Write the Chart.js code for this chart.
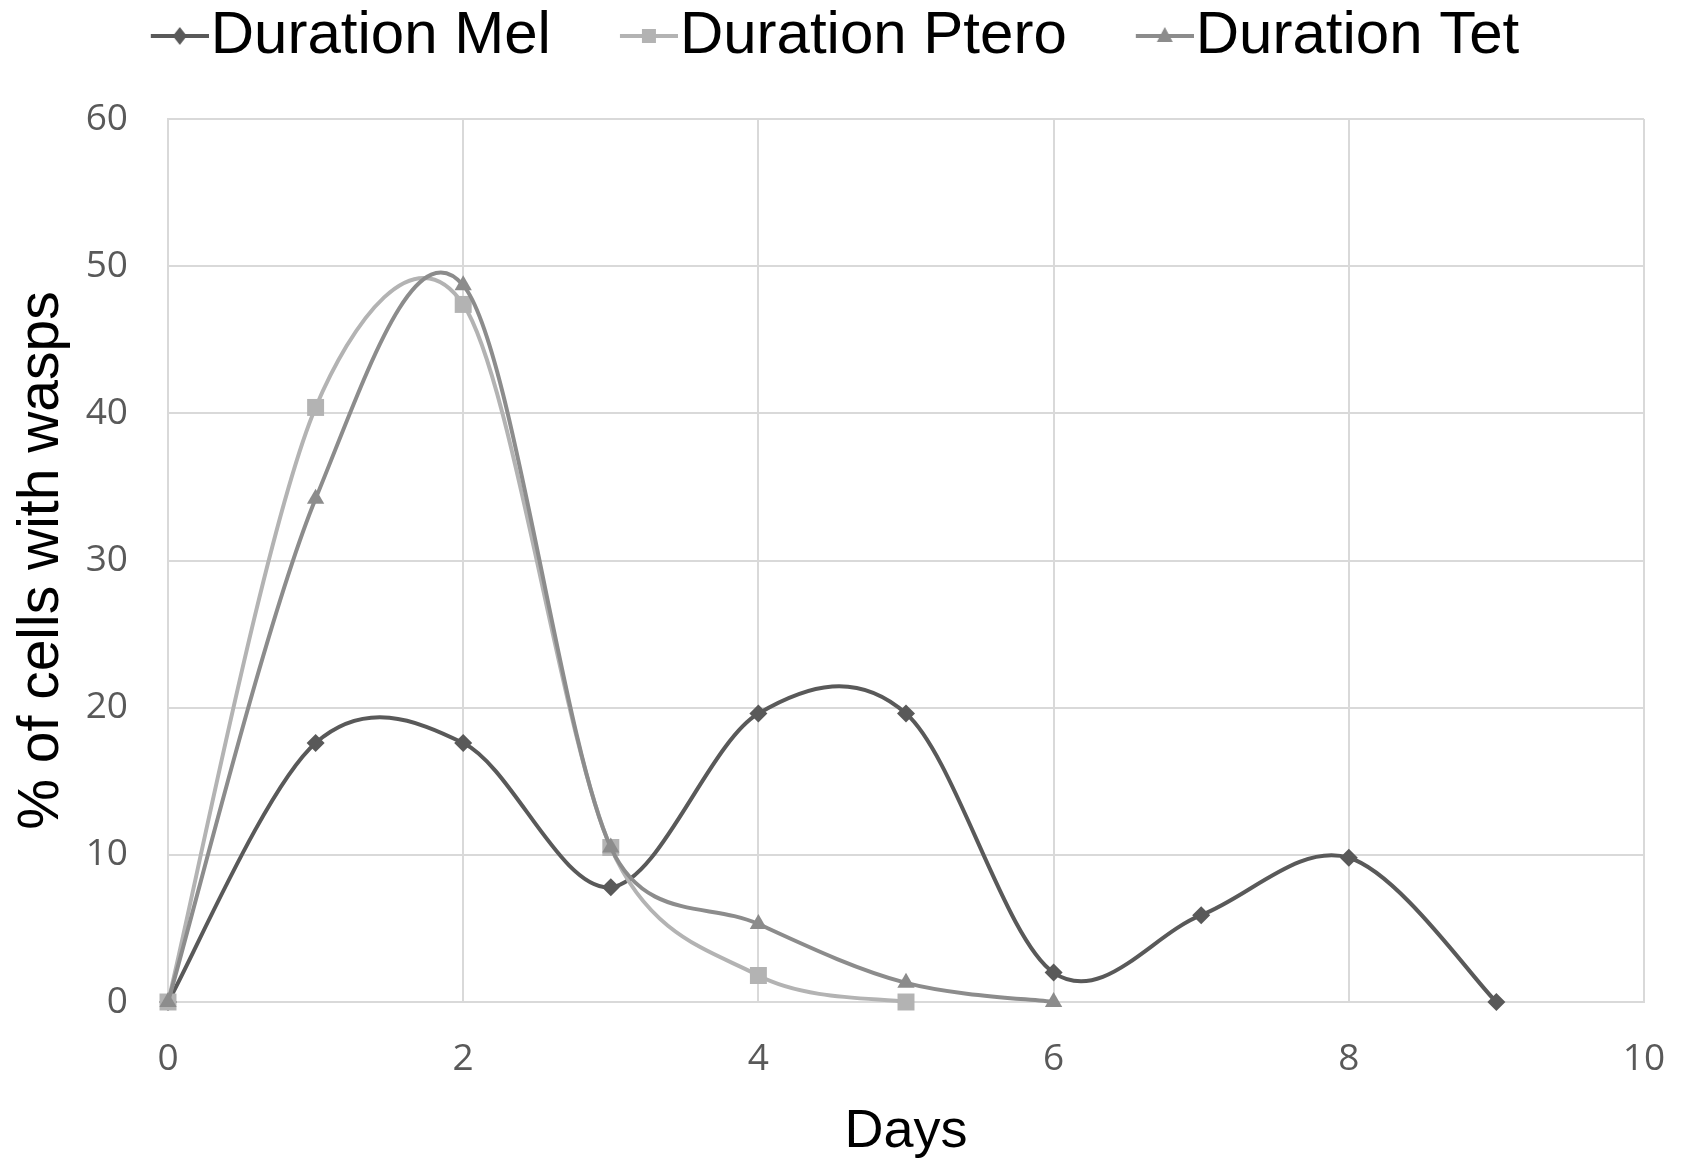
<!DOCTYPE html>
<html>
<head>
<meta charset="utf-8">
<script src="https://cdn.jsdelivr.net/npm/chart.js@4.4.0/dist/chart.umd.min.js"></script>
<style>
  html, body { margin: 0; padding: 0; background: #fff; }
  #wrap { width: 1685px; height: 1160px; }
</style>
</head>
<body>
<div id="wrap"><canvas id="chart" width="1685" height="1160"></canvas></div>
<script>
const seriesNames = ["Duration Mel", "Duration Ptero", "Duration Tet"];
const melDays = [0, 1, 2, 3, 4, 5, 6, 7, 8, 9];
const melValues = [0, 17.6, 17.6, 7.8, 19.6, 19.6, 2.0, 5.9, 9.8, 0];
const pteroDays = [0, 1, 2, 3, 4, 5];
const pteroValues = [0, 40.4, 47.4, 10.5, 1.8, 0];
const tetDays = [0, 1, 2, 3, 4, 5, 6];
const tetValues = [0, 34.2, 48.7, 10.5, 5.3, 1.3, 0];
const xTicks = [0, 2, 4, 6, 8, 10];
const yTicks = [0, 10, 20, 30, 40, 50, 60];

const colors = ["#595959", "#b3b3b3", "#8c8c8c"];
const styles = ["rectRot", "rect", "triangle"];
const radii = [9, 12, 10];
const gridColor = "#d9d9d9";
const titleFont = "'Liberation Sans', Arial, sans-serif";
const tickFont = "'Open Sans', sans-serif";

const LEGEND_SIZE = 60;
const BOX_W = 56;
const LEGEND_PAD = 43;

function toPoints(xs, ys) {
  return xs.map((x, i) => ({ x: x, y: ys[i] }));
}

// legend sample: line + marker, drawn at the right end of a wider image
// so the label text sits right next to it (like Excel)
function legendMark(color, style) {
  const half = LEGEND_SIZE / 2;
  const c = document.createElement("canvas");
  c.width = BOX_W + 2 * half - 4;
  c.height = 26;
  const g = c.getContext("2d");
  const x0 = c.width - 58, cx = x0 + 29, cy = 13;
  g.strokeStyle = color;
  g.fillStyle = color;
  g.lineWidth = 4;
  g.beginPath(); g.moveTo(x0, cy); g.lineTo(x0 + 58, cy); g.stroke();
  g.beginPath();
  if (style === "rectRot") {
    g.moveTo(cx, cy - 9); g.lineTo(cx + 7, cy); g.lineTo(cx, cy + 9); g.lineTo(cx - 7, cy);
  } else if (style === "rect") {
    g.rect(cx - 7, cy - 7, 14, 14);
  } else {
    g.moveTo(cx, cy - 9); g.lineTo(cx + 8, cy + 6); g.lineTo(cx - 8, cy + 6);
  }
  g.closePath(); g.fill();
  return c;
}

const allData = [toPoints(melDays, melValues), toPoints(pteroDays, pteroValues), toPoints(tetDays, tetValues)];

const datasets = seriesNames.map((name, i) => ({
  label: name,
  data: allData[i],
  borderColor: colors[i],
  backgroundColor: colors[i],
  pointBackgroundColor: colors[i],
  pointBorderColor: colors[i],
  pointBorderWidth: 0,
  pointStyle: styles[i],
  pointRadius: radii[i],
  borderWidth: 4,
  tension: 0.4,
  clip: false,
  order: 3 - i
}));

const marks = seriesNames.map((n, i) => legendMark(colors[i], styles[i]));

// fixed legend box height, so the plot starts where it should
const TOP_PAD = 6 - LEGEND_PAD;
const legendGap = {
  id: "legendGap",
  afterInit(chart) {
    const fit = chart.legend.fit;
    chart.legend.fit = function () {
      fit.call(this);
      this.height = 119 - TOP_PAD;
    };
  }
};

// Excel-style smoothing: control points at 1/6 of the neighbour chord
// (Catmull-Rom), each side capped at half its own segment length.
// Works on the pixel positions the scales gave the points.
function dist(a, b) { return Math.hypot(b.x - a.x, b.y - a.y); }
const excelSmooth = {
  id: "excelSmooth",
  beforeDatasetsDraw(chart) {
    chart.getSortedVisibleDatasetMetas().forEach(meta => {
      const line = meta.dataset;
      line.updateControlPoints(chart.chartArea, "x");
      const pts = meta.data;
      const n = pts.length;
      pts.forEach((p, i) => {
        const prev = pts[Math.max(i - 1, 0)];
        const next = pts[Math.min(i + 1, n - 1)];
        const tx = next.x - prev.x, ty = next.y - prev.y;
        const len = Math.hypot(tx, ty) || 1;
        const fIn = Math.min(1 / 6, 0.5 * dist(prev, p) / len);
        const fOut = Math.min(1 / 6, 0.5 * dist(p, next) / len);
        p.cp1x = p.x - tx * fIn; p.cp1y = p.y - ty * fIn;
        p.cp2x = p.x + tx * fOut; p.cp2y = p.y + ty * fOut;
      });
      line._path = undefined;
    });
  }
};

new Chart(document.getElementById("chart"), {
  type: "line",
  data: { datasets: datasets },
  plugins: [legendGap, excelSmooth],
  options: {
    responsive: false,
    devicePixelRatio: 1,
    animation: false,
    layout: { padding: { left: 0, right: 41, top: TOP_PAD, bottom: 0 } },
    plugins: {
      tooltip: { enabled: false },
      legend: {
        position: "top",
        labels: {
          usePointStyle: true,
          pointStyleWidth: BOX_W,
          padding: LEGEND_PAD,
          color: "#000",
          font: { family: titleFont, size: LEGEND_SIZE },
          generateLabels(chart) {
            return chart.data.datasets.map((ds, i) => ({
              text: ds.label,
              datasetIndex: i,
              pointStyle: marks[i],
              fillStyle: colors[i],
              strokeStyle: colors[i],
              lineWidth: 0,
              fontColor: "#000",
              hidden: false
            }));
          }
        }
      }
    },
    scales: {
      x: {
        type: "linear",
        min: 0, max: 10,
        afterBuildTicks(scale) { scale.ticks = xTicks.map(v => ({ value: v })); },
        afterFit(scale) {
          scale.height = 158;
          scale.paddingLeft = 0;
          scale.paddingRight = 0;
        },
        grid: { color: gridColor, lineWidth: 2, drawTicks: false },
        border: { color: gridColor, width: 2 },
        ticks: { padding: 35, color: "#595959", font: { family: tickFont, size: 37 } },
        title: {
          display: true, text: "Days", color: "#000",
          font: { family: titleFont, size: 54, lineHeight: 1.05 },
          padding: { top: 0, bottom: 0 }
        }
      },
      y: {
        min: 0, max: 60,
        afterBuildTicks(scale) { scale.ticks = yTicks.map(v => ({ value: v })); },
        afterFit(scale) {
          scale.width = 168;
          scale.paddingTop = 0;
          scale.paddingBottom = 0;
        },
        grid: { color: gridColor, lineWidth: 2, drawTicks: false },
        border: { color: gridColor, width: 2 },
        ticks: { padding: 40, color: "#595959", font: { family: tickFont, size: 37 } },
        title: {
          display: true, text: "% of cells with wasps", color: "#000",
          font: { family: titleFont, size: 57 },
          padding: { top: 8, bottom: 0 }
        }
      }
    }
  }
});
</script>
</body>
</html>
